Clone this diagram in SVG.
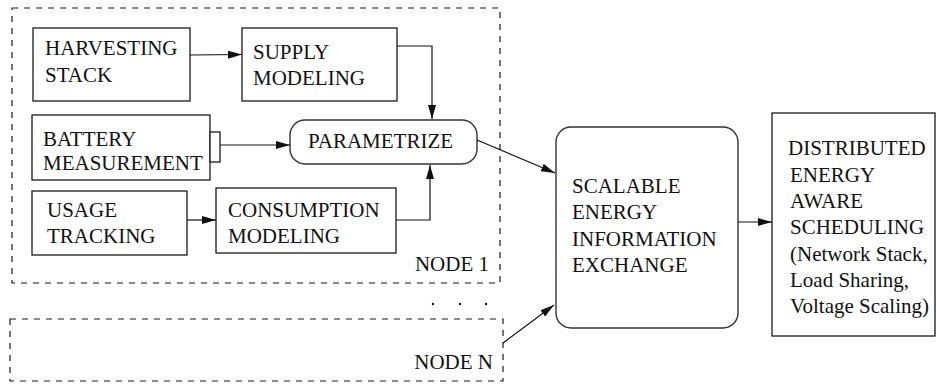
<svg xmlns="http://www.w3.org/2000/svg" width="936" height="386" viewBox="0 0 936 386">
<style>
.box{fill:#fff;stroke:#1a1a1a;stroke-width:1.3}
.rbox{fill:#fff;stroke:#333;stroke-width:1.4}
.dash{fill:none;stroke:#1a1a1a;stroke-width:1.2;stroke-dasharray:6 6}
.ln{fill:none;stroke:#111;stroke-width:1.2}
text{font-family:"Liberation Serif","Times New Roman",serif;font-size:21px;fill:#111}
</style>
<defs>
<marker id="ah" markerUnits="userSpaceOnUse" markerWidth="15" markerHeight="9" refX="14" refY="4" orient="auto">
<path d="M0,0 L14,4 L0,8 z" fill="#111"/>
</marker>
</defs>
<g id="node1-group">
<rect class="dash" x="12" y="8" width="488" height="275"/>
<text x="489" y="271" text-anchor="end">NODE 1</text>
</g>
<g id="nodeN-group">
<rect class="dash" x="10" y="319" width="493" height="62"/>
<text x="493" y="369" text-anchor="end">NODE N</text>
</g>
<g id="dots">
<circle cx="433" cy="304" r="1.2" fill="#111"/>
<circle cx="460" cy="304" r="1.2" fill="#111"/>
<circle cx="486" cy="304" r="1.2" fill="#111"/>
</g>
<g id="harvesting">
<rect class="box" x="33" y="28" width="157" height="73"/>
<text x="45" y="55">HARVESTING</text>
<text x="45" y="82">STACK</text>
</g>
<g id="supply">
<rect class="box" x="242" y="28" width="155" height="73"/>
<text x="253" y="59">SUPPLY</text>
<text x="253" y="85">MODELING</text>
</g>
<g id="battery">
<rect class="box" x="32" y="115" width="178" height="65"/>
<rect class="box" x="210" y="132" width="10" height="30"/>
<text x="43" y="146">BATTERY</text>
<text x="43" y="170">MEASUREMENT</text>
</g>
<g id="parametrize">
<rect class="rbox" x="290" y="120" width="187" height="44" rx="15"/>
<text x="308" y="148">PARAMETRIZE</text>
</g>
<g id="usage">
<rect class="box" x="32" y="191" width="155" height="64"/>
<text x="47" y="217">USAGE</text>
<text x="47" y="243">TRACKING</text>
</g>
<g id="consumption">
<rect class="box" x="216" y="188" width="180" height="65"/>
<text x="228" y="217">CONSUMPTION</text>
<text x="228" y="243">MODELING</text>
</g>
<g id="scalable">
<rect class="rbox" x="556" y="127" width="182" height="201" rx="15"/>
<text x="572" y="193">SCALABLE</text>
<text x="572" y="219">ENERGY</text>
<text x="572" y="246">INFORMATION</text>
<text x="572" y="272">EXCHANGE</text>
</g>
<g id="distributed">
<rect class="box" x="772" y="113" width="163" height="223"/>
<text x="788" y="155">DISTRIBUTED</text>
<text x="790" y="182">ENERGY</text>
<text x="790" y="208">AWARE</text>
<text x="790" y="234">SCHEDULING</text>
<text x="790" y="261">(Network Stack,</text>
<text x="790" y="287">Load Sharing,</text>
<text x="790" y="313">Voltage Scaling)</text>
</g>
<g id="connectors">
<line class="ln" x1="190" y1="55" x2="242" y2="54.5" marker-end="url(#ah)"/>
<polyline class="ln" points="397,46 432,46 432,119" marker-end="url(#ah)"/>
<line class="ln" x1="220" y1="145" x2="290" y2="145" marker-end="url(#ah)"/>
<line class="ln" x1="187" y1="220" x2="216" y2="220" marker-end="url(#ah)"/>
<polyline class="ln" points="396,220 430,220 430,165" marker-end="url(#ah)"/>
<line class="ln" x1="477" y1="140" x2="555" y2="173" marker-end="url(#ah)"/>
<line class="ln" x1="503" y1="343" x2="554" y2="305" marker-end="url(#ah)"/>
<line class="ln" x1="738" y1="222" x2="772" y2="222" marker-end="url(#ah)"/>
</g>
</svg>
